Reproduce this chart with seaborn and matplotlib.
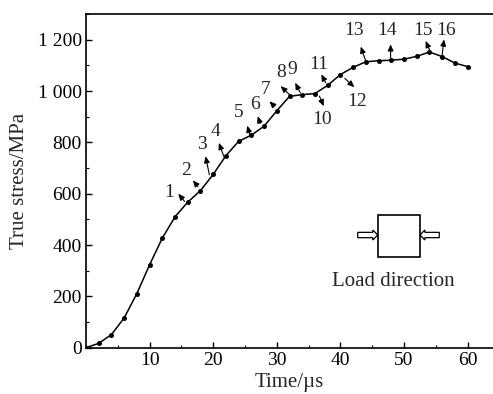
import matplotlib
matplotlib.use("Agg")
import matplotlib.pyplot as plt
import seaborn as sns
import pandas as pd
from matplotlib.patches import FancyArrow, Rectangle
from matplotlib.ticker import MultipleLocator, FixedLocator, FixedFormatter

# ---- data ----
time_us = [0, 2, 4, 6, 8, 10, 12, 14, 16, 18, 20, 22, 24, 26, 28, 30,
           32, 34, 36, 38, 40, 42, 44, 46, 48, 50, 52, 54, 56, 58, 60]
stress_mpa = [0, 17, 51, 116, 211, 323, 427, 510, 567, 612, 675, 748, 804, 828, 863, 923,
              979, 986, 990, 1022, 1064, 1092, 1114, 1118, 1120, 1124, 1135, 1152, 1134, 1109, 1095]

y_ticks = [0, 200, 400, 600, 800, 1000, 1200]
y_tick_labels = ["0", "200", "400", "600", "800", "1 000", "1 200"]
x_ticks = [10, 20, 30, 40, 50, 60]

# annotation labels and arrows (data coords)
annot_text = [str(i) for i in range(1, 17)]
annot_label_x = [13.0, 15.8, 18.3, 20.3, 24.0, 26.5, 28.2, 30.7, 32.5, 37.05, 36.6, 42.7, 42.2, 47.4, 53.0, 56.55]
annot_label_y = [605, 691, 791, 843, 915, 947, 1006, 1071, 1084, 889, 1104, 960, 1234, 1234, 1237, 1237]
annot_tail_x = [15.5, 17.6, 19.4, 21.7, 25.8, 27.4, 29.6, 32.0, 33.7, 36.7, 37.7, 40.7, 44.0, 47.9, 54.1, 56.0]
annot_tail_y = [570, 628, 674, 743, 826, 873, 941, 986, 993, 980, 1032, 1049, 1116, 1123, 1155, 1140]
annot_head_x = [14.5, 16.8, 18.8, 20.9, 25.35, 27.0, 28.85, 30.6, 32.9, 37.4, 37.0, 42.2, 43.2, 47.9, 53.4, 56.3]
annot_head_y = [600, 652, 746, 798, 865, 902, 960, 1019, 1032, 941, 1065, 1015, 1173, 1182, 1195, 1201]

df = pd.DataFrame({"time": time_us, "stress": stress_mpa})

sns.set_theme(style="ticks")
plt.rcParams["font.family"] = ["Liberation Serif", "DejaVu Serif"]
plt.rcParams["mathtext.default"] = "regular"

fig = plt.figure(figsize=(4.93, 3.94), dpi=100)
ax = fig.add_axes([86 / 493, (394 - 347.7) / 394, 407 / 493, 333.7 / 394])

sns.lineplot(data=df, x="time", y="stress", ax=ax, color="black", linewidth=1.1,
             marker="o", markersize=3.6, markeredgewidth=0, markerfacecolor="black")

ax.set_xlim(0, 64)
ax.set_ylim(0, 1300)
ax.xaxis.set_major_locator(FixedLocator(x_ticks))
ax.xaxis.set_minor_locator(MultipleLocator(5))
ax.yaxis.set_major_locator(FixedLocator(y_ticks))
ax.yaxis.set_major_formatter(FixedFormatter(y_tick_labels))
ax.yaxis.set_minor_locator(MultipleLocator(100))

ax.tick_params(which="both", direction="in", colors="black", labelsize=14, pad=3)
ax.tick_params(which="major", length=4, width=1)
ax.tick_params(which="minor", length=2.5, width=0.8)
ax.tick_params(axis="x", top=False)
ax.tick_params(axis="y", right=False)

for s in ["left", "bottom", "top"]:
    ax.spines[s].set_linewidth(1.2)
    ax.spines[s].set_color("black")
ax.spines["right"].set_visible(False)

ax.set_xlabel("Time/\u00b5s", fontsize=15, labelpad=3)
ax.set_ylabel("True stress/MPa", fontsize=15, labelpad=6)

for t, lx, ly, tx, ty, hx, hy in zip(annot_text, annot_label_x, annot_label_y,
                                     annot_tail_x, annot_tail_y, annot_head_x, annot_head_y):
    ax.text(lx, ly, t, fontsize=14, ha="center", va="center")
    ax.annotate("", xy=(hx, hy), xytext=(tx, ty),
                arrowprops=dict(arrowstyle="-|>,head_length=0.32,head_width=0.14",
                                color="black", lw=0.8, shrinkA=0, shrinkB=0))

# load direction sketch (axes fraction)
ax.add_patch(Rectangle((0.7167, 0.271), 0.1039, 0.127, transform=ax.transAxes,
                       fill=False, edgecolor="black", linewidth=1.2))
ax.add_patch(FancyArrow(0.6676, 0.3377, 0.0491, 0, width=0.016, head_width=0.03,
                        head_length=0.012, length_includes_head=True, transform=ax.transAxes,
                        facecolor="white", edgecolor="black", linewidth=0.9))
ax.add_patch(FancyArrow(0.868, 0.3377, -0.0474, 0, width=0.016, head_width=0.03,
                        head_length=0.012, length_includes_head=True, transform=ax.transAxes,
                        facecolor="white", edgecolor="black", linewidth=0.9))
ax.text(0.755, 0.198, "Load direction", transform=ax.transAxes, fontsize=15,
        ha="center", va="center")

fig.savefig("out.png", dpi=100)
